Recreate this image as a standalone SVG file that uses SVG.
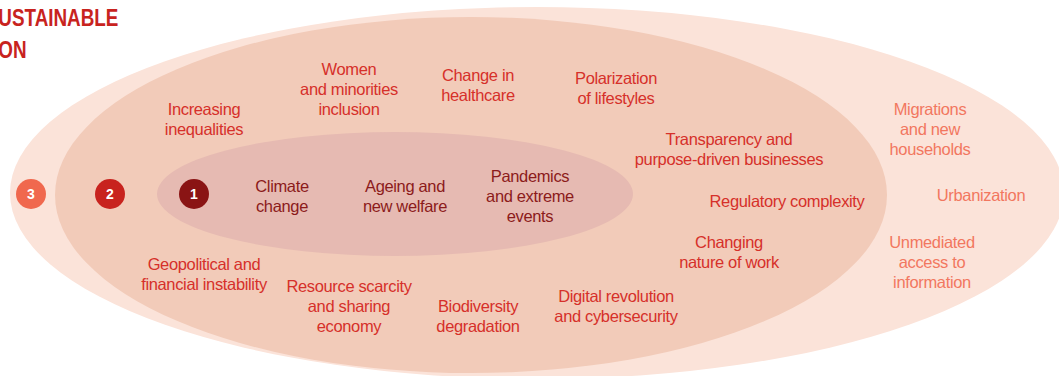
<svg xmlns="http://www.w3.org/2000/svg" width="1059" height="376" viewBox="0 0 1059 376">
<style>
text{font-family:"Liberation Sans",Arial,sans-serif;font-size:16.5px;letter-spacing:-0.35px;text-anchor:middle}
.o{fill:#f2775f}
.m{fill:#d6302a}
.i{fill:#8c1b1b}
.n{fill:#fff;font-weight:bold;font-size:14px;letter-spacing:0}
.t{fill:#c8231e;font-weight:bold;font-size:23px;letter-spacing:0;text-anchor:start}
</style>
<rect width="1059" height="376" fill="#fff"/>
<g id="ring3"><ellipse cx="537" cy="193" rx="527" ry="186" fill="#fbe3d9"/></g>
<g id="ring2"><ellipse cx="471" cy="195" rx="416" ry="178" fill="#f2cbb9"/></g>
<g id="ring1"><ellipse cx="395" cy="194" rx="238" ry="62" fill="#e6bab2"/></g>
<g id="title" transform="scale(0.82,1)">
<text class="t" x="-2" y="26">USTAINABLE</text>
<text class="t" x="-2" y="58">ON</text>
</g>
<g id="badges">
<g id="b3"><circle cx="31" cy="194" r="15" fill="#f0684e"/><text class="n" x="31" y="199">3</text></g>
<g id="b2"><circle cx="110" cy="194" r="15" fill="#c8231e"/><text class="n" x="110" y="199">2</text></g>
<g id="b1"><circle cx="194" cy="194" r="15" fill="#8a1414"/><text class="n" x="194" y="199">1</text></g>
</g>
<g id="inner-labels">
<text class="i" x="282" y="192">Climate<tspan x="282" dy="20">change</tspan></text>
<text class="i" x="405" y="192">Ageing and<tspan x="405" dy="20">new welfare</tspan></text>
<text class="i" x="530" y="182">Pandemics<tspan x="530" dy="20">and extreme</tspan><tspan x="530" dy="20">events</tspan></text>
</g>
<g id="middle-labels">
<text class="m" x="204" y="115">Increasing<tspan x="204" dy="20">inequalities</tspan></text>
<text class="m" x="349" y="75">Women<tspan x="349" dy="20">and minorities</tspan><tspan x="349" dy="20">inclusion</tspan></text>
<text class="m" x="478" y="81">Change in<tspan x="478" dy="20">healthcare</tspan></text>
<text class="m" x="616" y="84">Polarization<tspan x="616" dy="20">of lifestyles</tspan></text>
<text class="m" x="729" y="145">Transparency and<tspan x="729" dy="20">purpose-driven businesses</tspan></text>
<text class="m" x="787" y="207">Regulatory complexity</text>
<text class="m" x="729" y="248">Changing<tspan x="729" dy="20">nature of work</tspan></text>
<text class="m" x="616" y="302">Digital revolution<tspan x="616" dy="20">and cybersecurity</tspan></text>
<text class="m" x="478" y="312">Biodiversity<tspan x="478" dy="20">degradation</tspan></text>
<text class="m" x="349" y="292">Resource scarcity<tspan x="349" dy="20">and sharing</tspan><tspan x="349" dy="20">economy</tspan></text>
<text class="m" x="204" y="270">Geopolitical and<tspan x="204" dy="20">financial instability</tspan></text>
</g>
<g id="outer-labels">
<text class="o" x="930" y="115">Migrations<tspan x="930" dy="20">and new</tspan><tspan x="930" dy="20">households</tspan></text>
<text class="o" x="981" y="201">Urbanization</text>
<text class="o" x="932" y="248">Unmediated<tspan x="932" dy="20">access to</tspan><tspan x="932" dy="20">information</tspan></text>
</g>
<g id="connectors"/>
</svg>
